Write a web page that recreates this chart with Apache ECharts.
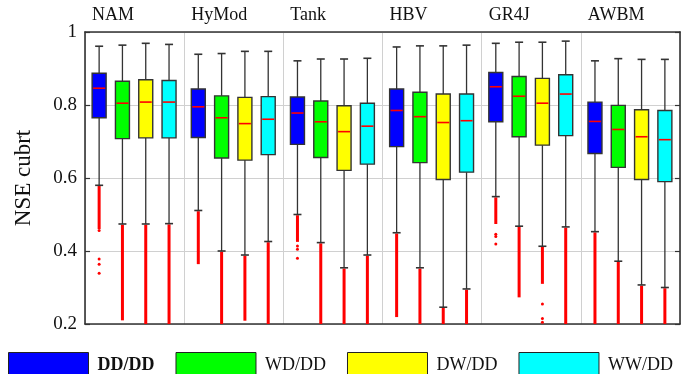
<!DOCTYPE html>
<html>
<head>
<meta charset="utf-8">
<script src="https://cdn.jsdelivr.net/npm/echarts@6/dist/echarts.min.js"></script>
<style>
  html, body { margin: 0; padding: 0; background: #fff; }
  #chart { width: 688px; height: 374px; }
</style>
</head>
<body>
<div id="chart"></div>
<script>
// Hydrological models (one group of boxes each) and calibration scenarios
const models = ['NAM', 'HyMod', 'Tank', 'HBV', 'GR4J', 'AWBM'];
const scenarios = ['DD/DD', 'WD/DD', 'DW/DD', 'WW/DD'];
const scenarioColors = ['#0000ff', '#00ff00', '#ffff00', '#00ffff'];
const yTicks = [0.2, 0.4, 0.6, 0.8, 1];

// Box statistics per scenario, in model order
const ddHigh = [0.961, 0.939, 0.921, 0.959, 0.969, 0.921];
const ddQ3   = [0.887, 0.844, 0.822, 0.844, 0.889, 0.808];
const ddMed  = [0.846, 0.795, 0.778, 0.785, 0.850, 0.755];
const ddQ1   = [0.765, 0.711, 0.692, 0.686, 0.754, 0.667];
const ddLow  = [0.580, 0.511, 0.500, 0.450, 0.549, 0.453];

const wdHigh = [0.964, 0.941, 0.926, 0.962, 0.972, 0.927];
const wdQ3   = [0.865, 0.825, 0.811, 0.835, 0.878, 0.799];
const wdMed  = [0.805, 0.765, 0.754, 0.768, 0.824, 0.733];
const wdQ1   = [0.708, 0.655, 0.656, 0.642, 0.713, 0.629];
const wdLow  = [0.474, 0.400, 0.423, 0.354, 0.468, 0.372];

const dwHigh = [0.969, 0.947, 0.926, 0.962, 0.972, 0.925];
const dwQ3   = [0.869, 0.821, 0.798, 0.830, 0.873, 0.787];
const dwMed  = [0.808, 0.749, 0.727, 0.752, 0.805, 0.713];
const dwQ1   = [0.710, 0.649, 0.621, 0.596, 0.690, 0.596];
const dwLow  = [0.474, 0.389, 0.354, 0.246, 0.413, 0.307];

const wwHigh = [0.966, 0.947, 0.928, 0.964, 0.975, 0.925];
const wwQ3   = [0.867, 0.823, 0.805, 0.830, 0.883, 0.785];
const wwMed  = [0.808, 0.761, 0.742, 0.757, 0.830, 0.705];
const wwQ1   = [0.710, 0.664, 0.638, 0.616, 0.716, 0.590];
const wwLow  = [0.475, 0.426, 0.389, 0.296, 0.466, 0.300];

// Outliers: densely packed runs [upper, lower] and isolated points
const ddOutlierRuns = [[0.578, 0.460], [0.509, 0.364], [0.498, 0.425], [0.448, 0.219], [0.547, 0.474], [0.451, 0.200]];
const wdOutlierRuns = [[0.472, 0.210], [0.398, 0.200], [0.421, 0.200], [0.352, 0.200], [0.466, 0.273], [0.370, 0.200]];
const dwOutlierRuns = [[0.472, 0.200], [0.387, 0.209], [0.352, 0.200], [0.244, 0.200], [0.411, 0.310], [0.305, 0.200]];
const wwOutlierRuns = [[0.473, 0.200], [0.424, 0.200], [0.387, 0.200], [0.294, 0.200], [0.464, 0.200], [0.298, 0.200]];

const ddOutlierPoints = [[0.456, 0.378, 0.364, 0.339], [], [0.414, 0.405, 0.380], [], [0.446, 0.440, 0.419], []];
const wdOutlierPoints = [[], [], [], [], [], []];
const dwOutlierPoints = [[], [], [], [], [0.255, 0.215, 0.205], []];
const wwOutlierPoints = [[], [], [], [], [], []];

const boxStats = [
  [ddLow, ddQ1, ddMed, ddQ3, ddHigh],
  [wdLow, wdQ1, wdMed, wdQ3, wdHigh],
  [dwLow, dwQ1, dwMed, dwQ3, dwHigh],
  [wwLow, wwQ1, wwMed, wwQ3, wwHigh]
];
const outlierRuns = [ddOutlierRuns, wdOutlierRuns, dwOutlierRuns, wwOutlierRuns];
const outlierPoints = [ddOutlierPoints, wdOutlierPoints, dwOutlierPoints, wwOutlierPoints];

// Layout of the four boxes inside each model group (x axis runs 0..6, one unit per model)
const SLOT = 0.235;
const BOX_W = 14;
const CAP_W = 8;
const FONT = '"Liberation Serif", "Times New Roman", serif';
const EDGE = '#333333';

function renderBox(params, api) {
  const s = params.seriesIndex;
  const g = api.value(0);
  const lo = api.value(1), q1 = api.value(2), med = api.value(3), q3 = api.value(4), hi = api.value(5);
  const xc = g + 0.495 + (s - 1.5) * SLOT;
  const px = api.coord([xc, med])[0];
  const y = v => api.coord([xc, v])[1];
  const children = [];

  // outliers below the lower whisker
  const run = outlierRuns[s][g];
  if (run) {
    children.push({
      type: 'line',
      shape: { x1: px, y1: y(run[0]), x2: px, y2: y(run[1]) },
      style: { stroke: '#ff0000', lineWidth: 3 }
    });
  }
  (outlierPoints[s][g] || []).forEach(v => {
    children.push({
      type: 'circle',
      shape: { cx: px, cy: y(v), r: 1.5 },
      style: { fill: '#ff0000' }
    });
  });

  // whiskers and caps
  const wStyle = { stroke: EDGE, lineWidth: 1.3 };
  children.push({ type: 'line', shape: { x1: px, y1: y(hi), x2: px, y2: y(q3) }, style: wStyle });
  children.push({ type: 'line', shape: { x1: px, y1: y(q1), x2: px, y2: y(lo) }, style: wStyle });
  children.push({ type: 'line', shape: { x1: px - CAP_W / 2, y1: y(hi), x2: px + CAP_W / 2, y2: y(hi) }, style: { stroke: EDGE, lineWidth: 1.6 } });
  children.push({ type: 'line', shape: { x1: px - CAP_W / 2, y1: y(lo), x2: px + CAP_W / 2, y2: y(lo) }, style: { stroke: EDGE, lineWidth: 1.6 } });

  // box and median
  const top = y(q3), bot = y(q1);
  children.push({
    type: 'rect',
    shape: { x: px - BOX_W / 2, y: top, width: BOX_W, height: bot - top },
    style: { fill: scenarioColors[s], stroke: EDGE, lineWidth: 1.4 }
  });
  children.push({
    type: 'line',
    shape: { x1: px - BOX_W / 2 + 1, y1: y(med), x2: px + BOX_W / 2 - 1, y2: y(med) },
    style: { stroke: '#ff0000', lineWidth: 1.6 }
  });

  return { type: 'group', children: children };
}

const series = scenarios.map((name, s) => ({
  name: name,
  type: 'custom',
  xAxisIndex: 0,
  yAxisIndex: 0,
  clip: true,
  itemStyle: { color: scenarioColors[s] },
  renderItem: renderBox,
  encode: { x: 0, y: [1, 2, 3, 4, 5] },
  data: models.map((m, g) => [g, boxStats[s][0][g], boxStats[s][1][g], boxStats[s][2][g], boxStats[s][3][g], boxStats[s][4][g]])
}));

const chart = echarts.init(document.getElementById('chart'), null, { renderer: 'canvas' });
chart.setOption({
  animation: false,
  backgroundColor: '#ffffff',
  grid: { left: 85, right: 8, top: 32, bottom: 50, containLabel: false },
  legend: {
    left: 8,
    top: 352,
    padding: 0,
    itemWidth: 80,
    itemHeight: 26,
    itemGap: 21,
    icon: 'rect',
    selectedMode: false,
    data: scenarios.map((n, s) => ({
      name: n,
      itemStyle: { color: scenarioColors[s], borderColor: '#222', borderWidth: 1 }
    })),
    formatter: n => (n === 'DD/DD' ? '{b|' + n + '}' : n),
    textStyle: {
      fontFamily: FONT,
      fontSize: 18,
      color: '#111',
      padding: [0, 0, 0, 4],
      rich: { b: { fontFamily: FONT, fontSize: 18, fontWeight: 'bold', color: '#111' } }
    }
  },
  xAxis: [
    {
      type: 'value',
      min: 0,
      max: models.length,
      interval: 1,
      position: 'bottom',
      axisLine: { show: true, onZero: false, lineStyle: { color: EDGE, width: 1.6 } },
      axisTick: { show: false },
      axisLabel: { show: false },
      splitLine: { show: true, lineStyle: { color: '#d0d0d0', width: 1 } }
    },
    {
      type: 'value',
      min: 0,
      max: models.length,
      interval: 1,
      position: 'top',
      axisLine: { show: true, onZero: false, lineStyle: { color: EDGE, width: 1.6 } },
      axisTick: { show: false },
      splitLine: { show: false },
      axisLabel: {
        show: true,
        margin: 8,
        align: 'left',
        padding: [0, 0, 0, 7],
        fontFamily: FONT,
        fontSize: 18,
        color: '#111',
        formatter: v => models[Math.round(v)] || ''
      }
    }
  ],
  yAxis: [
    {
      type: 'value',
      min: yTicks[0],
      max: yTicks[yTicks.length - 1],
      interval: 0.2,
      position: 'left',
      name: 'NSE cubrt',
      nameLocation: 'middle',
      nameGap: 50,
      nameTextStyle: { fontFamily: FONT, fontSize: 23, color: '#111' },
      axisLine: { show: true, onZero: false, lineStyle: { color: EDGE, width: 1.6 } },
      axisTick: { show: true, inside: true, length: 5, lineStyle: { color: EDGE, width: 1.2 } },
      axisLabel: {
        margin: 8,
        fontFamily: FONT,
        fontSize: 19,
        color: '#111',
        formatter: v => (Math.abs(v - 1) < 1e-9 ? '1' : v.toFixed(1))
      },
      splitLine: { show: true, lineStyle: { color: '#d0d0d0', width: 1 } }
    },
    {
      type: 'value',
      min: yTicks[0],
      max: yTicks[yTicks.length - 1],
      interval: 0.2,
      position: 'right',
      axisLine: { show: true, onZero: false, lineStyle: { color: EDGE, width: 1.6 } },
      axisTick: { show: true, inside: true, length: 5, lineStyle: { color: EDGE, width: 1.2 } },
      axisLabel: { show: false },
      splitLine: { show: false }
    }
  ],
  series: series
});
</script>
</body>
</html>
